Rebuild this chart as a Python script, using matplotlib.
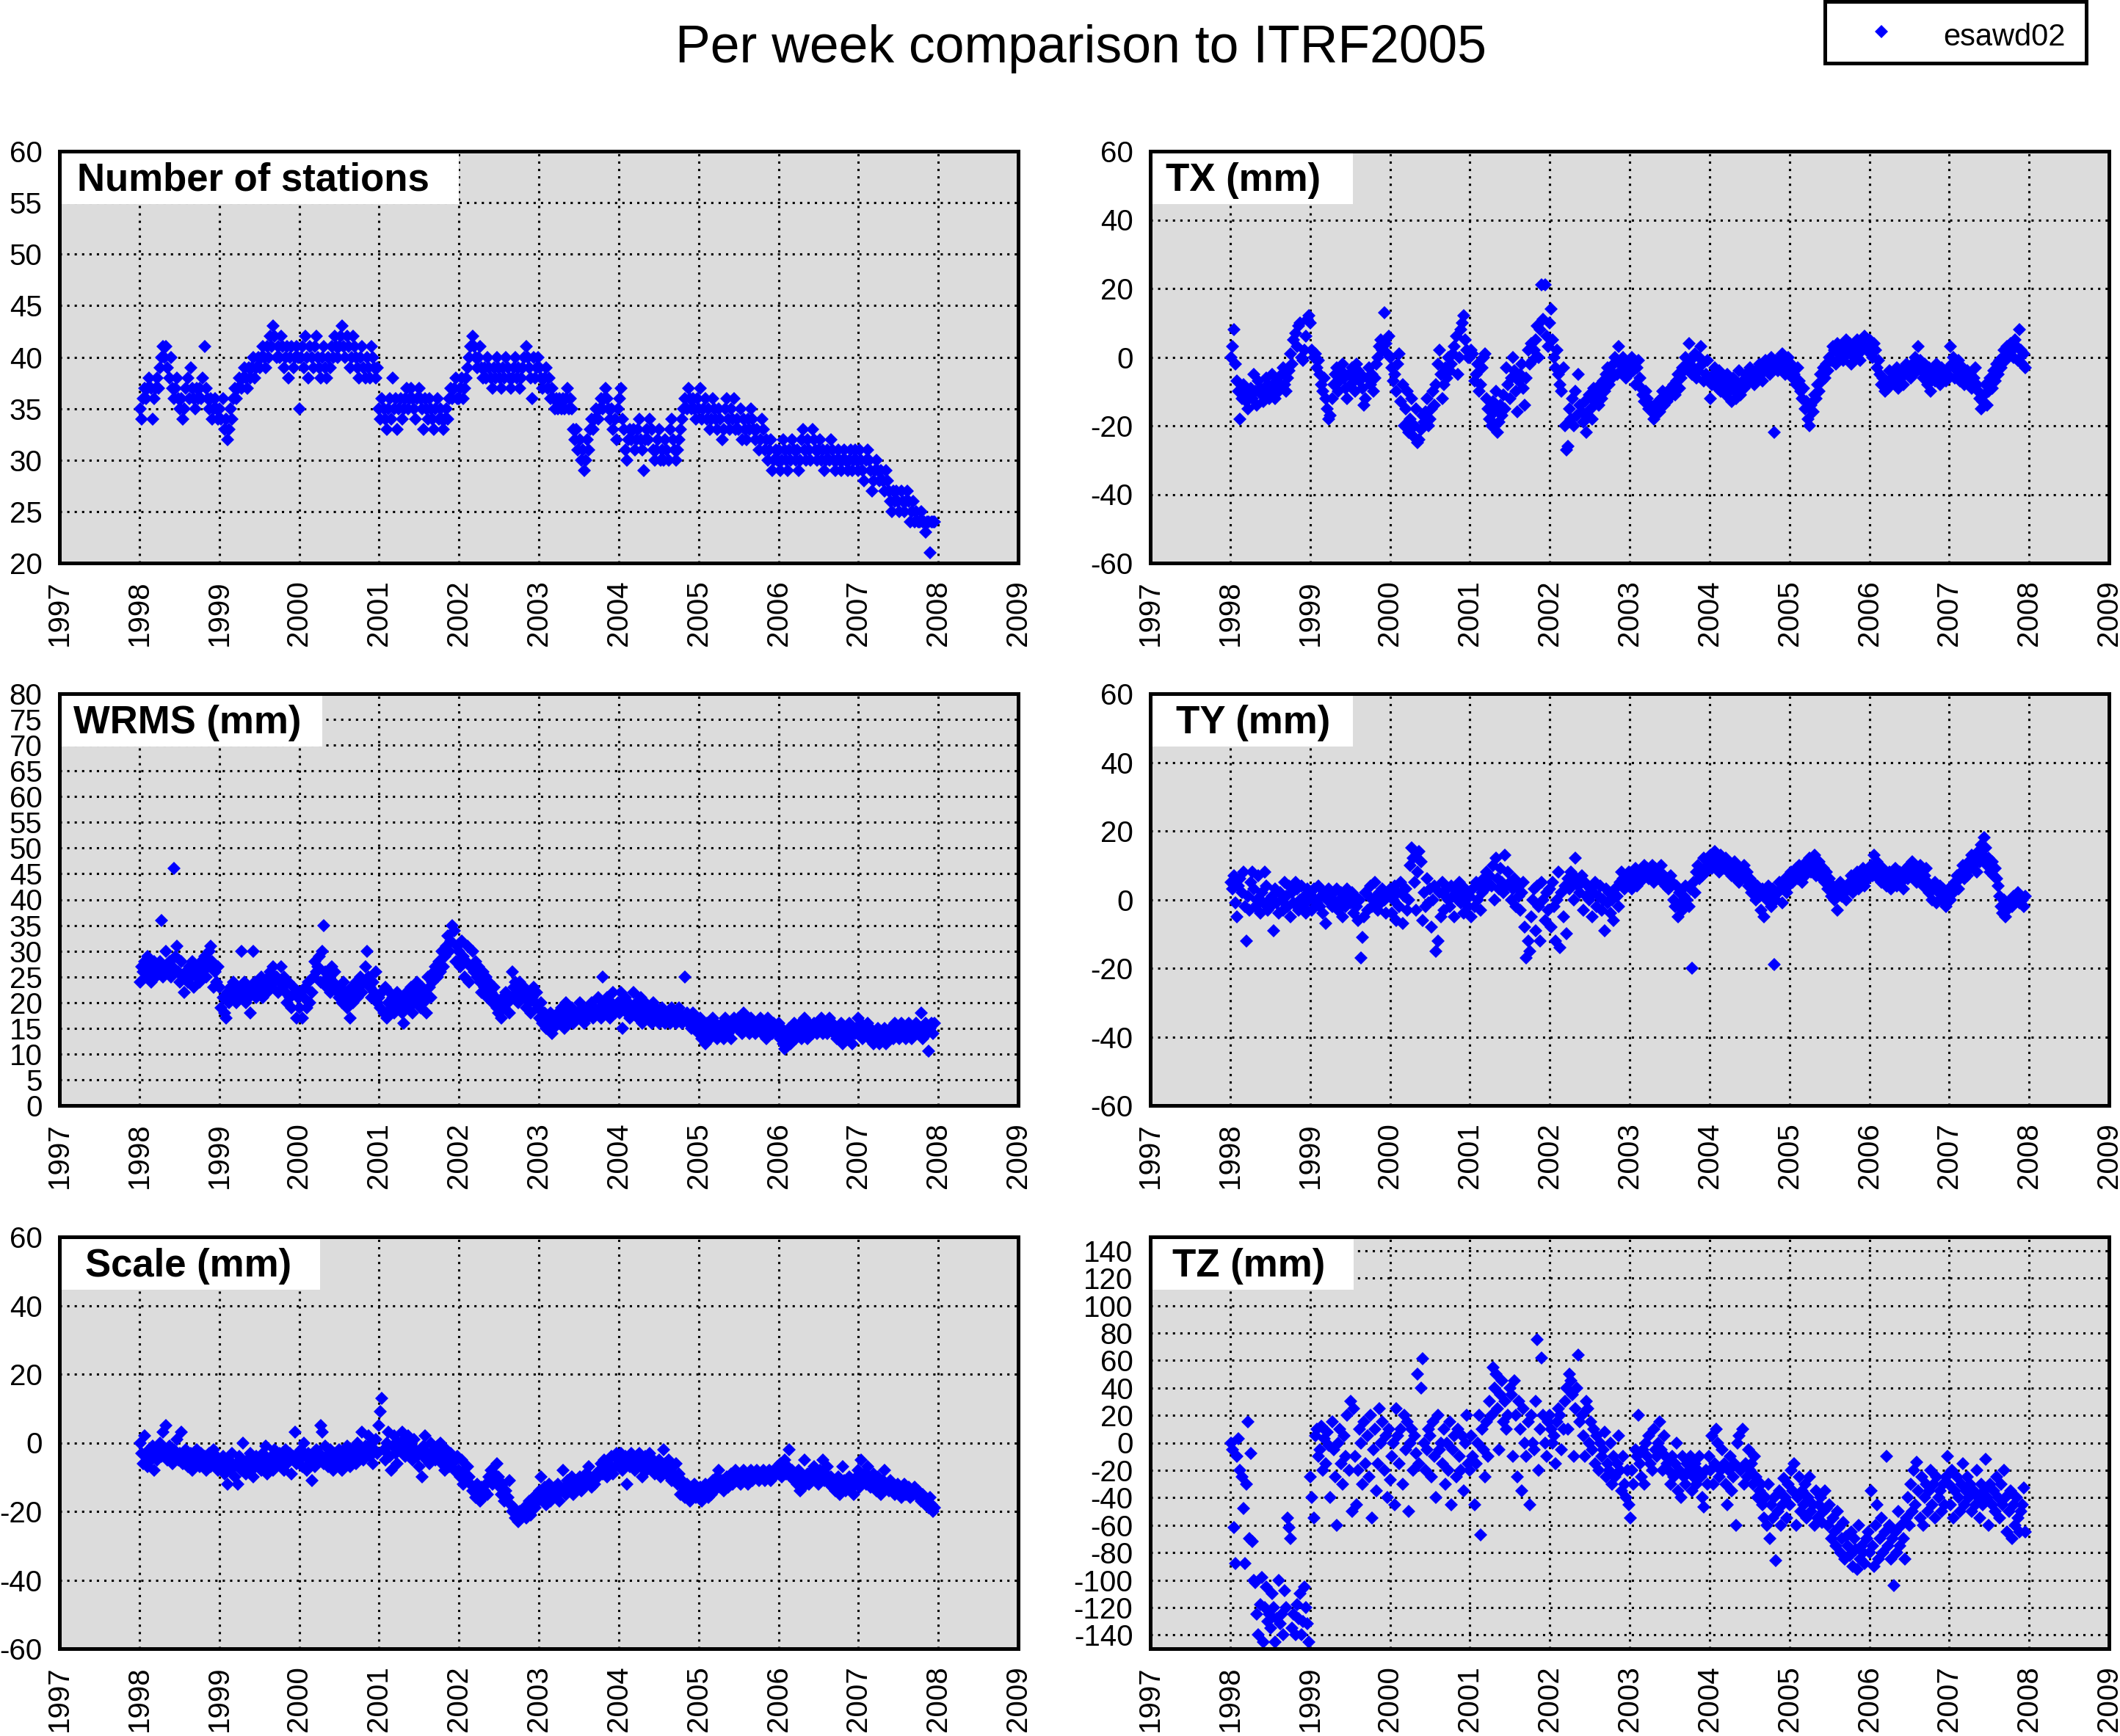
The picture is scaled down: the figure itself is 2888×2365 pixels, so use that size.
import numpy as np
import matplotlib
matplotlib.use("Agg")
import matplotlib.pyplot as plt
from matplotlib.patches import Rectangle
from matplotlib.lines import Line2D

plt.rcParams["font.family"] = ["Liberation Sans", "DejaVu Sans"]
plt.rcParams["axes.unicode_minus"] = False

# Weekly solutions esawd02 vs ITRF2005, one line = one quarter (13 weeks), 1998.0 -> 2008.0
first_epoch = 1998.01
week = 7 / 365.25

stations = [
    35, 34, 36, 37, 36, 37, 38, 37, 34, 36, 37, 38, 37,
    39, 40, 41, 40, 41, 39, 38, 40, 37, 36, 37, 38, 36,
    35, 36, 34, 35, 37, 38, 36, 39, 37, 36, 35, 37, 36,
    37, 36, 38, 41, 37, 36, 35, 36, 34, 35, 36, 35, 34,
    35, 34, 36, 33, 34, 32, 33, 35, 34, 36, 37, 36, 37,
    38, 37, 38, 39, 38, 37, 39, 38, 39, 40, 38, 39, 40,
    39, 40, 41, 40, 39, 41, 40, 42, 41, 43, 42, 40, 41,
    40, 42, 41, 39, 40, 41, 38, 40, 41, 39, 40, 41, 40,
    35, 40, 41, 39, 42, 40, 38, 41, 40, 39, 41, 42, 40,
    39, 38, 40, 41, 39, 38, 40, 39, 41, 40, 42, 41, 40,
    41, 42, 43, 41, 40, 42, 41, 39, 40, 42, 41, 40, 39,
    38, 40, 41, 39, 38, 40, 39, 38, 41, 40, 39, 38, 39,
    35, 34, 36, 35, 34, 33, 35, 36, 34, 38, 35, 36, 33,
    35, 36, 34, 35, 36, 37, 35, 36, 37, 36, 35, 34, 36,
    37, 36, 35, 33, 36, 35, 34, 36, 35, 34, 33, 35, 36,
    34, 35, 34, 33, 34, 35, 34, 36, 37, 36, 37, 38, 36,
    36, 37, 38, 36, 37, 38, 39, 40, 41, 42, 41, 40, 39,
    40, 41, 39, 38, 39, 38, 40, 39, 38, 37, 39, 38, 40,
    39, 38, 37, 39, 38, 40, 39, 38, 37, 38, 39, 40, 38,
    39, 37, 38, 39, 40, 41, 40, 39, 38, 36, 40, 38, 39,
    40, 39, 38, 37, 38, 39, 37, 38, 36, 37, 36, 35, 36,
    35, 36, 35, 36, 35, 36, 37, 35, 36, 35, 33, 32, 33,
    31, 32, 30, 31, 29, 30, 32, 31, 33, 34, 33, 34, 35,
    34, 35, 36, 35, 36, 37, 36, 35, 34, 35, 33, 34, 32,
    35, 36, 37, 34, 33, 31, 30, 32, 33, 32, 33, 31, 32,
    33, 34, 32, 31, 29, 32, 33, 32, 34, 33, 31, 30, 31,
    32, 33, 30, 31, 30, 32, 31, 30, 33, 34, 32, 31, 30,
    31, 32, 33, 34, 35, 36, 35, 37, 36, 35, 36, 35, 34,
    36, 35, 37, 34, 35, 36, 34, 35, 33, 34, 36, 35, 34,
    33, 35, 34, 32, 33, 35, 36, 34, 33, 35, 34, 36, 33,
    34, 33, 35, 32, 34, 33, 32, 34, 33, 35, 34, 33, 32,
    33, 31, 32, 34, 33, 31, 32, 30, 31, 32, 29, 30, 31,
    30, 31, 29, 30, 32, 31, 30, 29, 31, 30, 32, 31, 30,
    31, 29, 30, 32, 33, 31, 30, 32, 31, 30, 33, 32, 31,
    30, 31, 32, 30, 31, 29, 30, 31, 30, 32, 31, 30, 29,
    30, 31, 30, 29, 30, 31, 30, 29, 30, 31, 29, 30, 31,
    30, 29, 31, 30, 29, 28, 30, 31, 30, 29, 27, 28, 29,
    30, 29, 28, 29, 28, 27, 29, 28, 27, 26, 25, 27, 26,
    27, 26, 25, 27, 26, 25, 26, 27, 26, 24, 25, 26, 24,
    25, 24, 24, 25, 24, 24, 23, 24, 24, 21, 24, 24, 24,
]

tx = [
    0, 3, 8, -2, -7, -10, -18, -12, -8, -10, -13, -15, -11,
    -9, -12, -5, -10, -14, -7, -9, -11, -13, -10, -6, -8, -12,
    -10, -5, -8, -12, -7, -10, -9, -5, -3, -8, -10, -6, -4,
    1, -2, 5, 7, 3, 9, 10, 0, -1, 2, 6, 11, 12,
    10, 2, 0, 1, -3, -1, -5, -8, -10, -6, -12, -15, -18,
    -17, -12, -8, -5, -3, -10, -7, -4, -2, -6, -9, -12, -5,
    -8, -3, -6, -10, -2, -4, -7, -5, -9, -14, -12, -6, -3,
    -8, -5, -10, -6, -2, 0, 3, 5, 2, 13, 4, 1, 6,
    0, -3, -7, -5, -10, -2, 1, -13, -8, -20, -15, -10, -22,
    -18, -12, -23, -20, -15, -25, -24, -21, -17, -19, -16, -12, -20,
    -18, -15, -10, -14, -8, -2, 2, -5, -12, -8, -3, -6, 0,
    -4, -2, 1, 3, 6, -5, 0, 8, 10, 12, 5, 2, 0,
    0, 2, 1, -7, -5, -2, -10, -8, -3, 0, 1, -12, -15,
    -18, -20, -13, -16, -10, -22, -19, -14, -17, -11, -15, -3, -8,
    -12, -6, 0, -4, -10, -16, -7, -5, -2, -9, -14, -6, 2,
    -2, 4, -1, 2, 5, 9, 0, 8, 21, 11, 21, 6, 3,
    10, 14, 5, 0, -3, 2, -5, -8, -10, -3, -20, -27, -26,
    -15, -18, -12, -20, -10, -17, -5, -14, -16, -19, -13, -22, -17,
    -11, -15, -18, -9, -13, -10, -14, -8, -12, -7, -10, -5, -3,
    -8, -4, -6, -2, 0, -5, 3, -2, -4, 0, -1, -6, -3,
    -5, -2, 0, -4, -8, -3, -1, -6, -9, -11, -13, -10, -12,
    -15, -14, -16, -18, -17, -15, -13, -16, -12, -10, -14, -11, -13,
    -12, -9, -10, -8, -11, -7, -5, -9, -6, -3, -4, 0, -2,
    4, -1, -5, -3, 1, -6, -4, 0, 3, -2, -7, -5, -1,
    -6, -12, -8, -5, -3, -7, -9, -4, -10, -6, -8, -11, -5,
    -7, -9, -13, -6, -10, -12, -8, -4, -11, -7, -9, -5, -8,
    -6, -3, -7, -5, -8, -4, -6, -2, -5, -7, -3, -1, -4,
    -2, -5, 0, -3, -22, -1, -4, -2, 0, 1, -3, -5, -2,
    0, -4, -2, -6, -5, -8, -3, -7, -10, -12, -9, -15, -13,
    -18, -20, -14, -16, -11, -12, -8, -10, -5, -7, -3, -6, -2,
    -4, 0, -1, 3, 2, -2, 4, 1, 0, 3, -1, 2, 5,
    1, 4, -2, 3, 0, 2, 5, 1, -1, 4, 3, 6, 2,
    3, 5, 1, 0, 4, 2, -3, -1, -5, -8, -6, -10, -7,
    -9, -4, -8, -6, -5, -7, -3, -9, -6, -4, -8, -5, -2,
    -4, -3, -6, -2, -5, 0, -3, 3, -1, -4, -6, -2, -5,
    -8, -3, -10, -6, -4, -7, -2, -5, -8, -3, -6, -4, -7,
    -5, -3, 3, -2, 0, -6, -4, -1, -7, -5, -3, -8, -6,
    -4, -7, -5, -9, -6, -3, -8, -10, -12, -15, -13, -11, -8,
    -14, -10, -6, -9, -4, -7, -2, -5, -1, -3, 0, 2, -1,
    3, 1, 4, 2, 0, 5, 3, -1, 8, 2, -2, 1, -3,
]

wrms = [
    24, 27, 26, 28, 25, 29, 27, 24, 26, 28, 25, 27, 26,
    28, 36, 25, 27, 30, 26, 28, 25, 27, 46, 29, 31, 26,
    24, 28, 25, 22, 26, 24, 27, 25, 28, 23, 26, 25, 27,
    24, 28, 26, 29, 25, 27, 30, 31, 28, 23, 26, 24, 27,
    23, 19, 21, 18, 17, 22, 20, 23, 21, 24, 22, 20, 23,
    21, 30, 22, 24, 20, 23, 21, 18, 22, 30, 24, 21, 23,
    22, 25, 21, 23, 24, 22, 25, 26, 23, 27, 24, 25, 22,
    24, 27, 23, 25, 22, 20, 24, 21, 19, 23, 22, 17, 21,
    19, 22, 17, 21, 23, 19, 24, 20, 22, 25, 28, 26, 27,
    29, 24, 30, 35, 26, 23, 25, 22, 27, 24, 26, 23, 22,
    21, 23, 20, 24, 22, 19, 21, 17, 23, 20, 22, 24, 21,
    23, 25, 22, 24, 27, 30, 25, 23, 21, 24, 22, 26, 20,
    21, 19, 22, 18, 23, 17, 20, 22, 19, 21, 18, 20, 22,
    19, 21, 18, 16, 20, 22, 19, 21, 23, 18, 20, 22, 24,
    21, 19, 23, 20, 22, 18, 25, 23, 21, 24, 26, 27, 25,
    28, 26, 30, 27, 29, 31, 33, 30, 32, 35, 34, 28, 31,
    30, 27, 32, 29, 25, 28, 31, 24, 27, 30, 26, 28, 25,
    27, 24, 22, 26, 23, 25, 21, 24, 22, 20, 23, 21, 19,
    18, 20, 17, 21, 19, 22, 20, 18, 21, 26, 23, 24, 22,
    20, 24, 22, 21, 23, 19, 22, 20, 18, 21, 23, 20, 22,
    19, 17, 20, 16, 18, 15, 17, 16, 18, 14, 15, 17, 16,
    18, 16, 19, 17, 15, 20, 18, 16, 17, 19, 16, 18, 17,
    18, 20, 17, 19, 16, 18, 17, 19, 18, 20, 17, 19, 18,
    21, 19, 17, 25, 20, 18, 21, 19, 17, 20, 22, 18, 19,
    20, 18, 22, 15, 19, 21, 18, 20, 17, 19, 22, 18, 20,
    17, 19, 21, 16, 18, 20, 17, 19, 18, 16, 20, 17, 19,
    18, 16, 17, 19, 18, 16, 17, 18, 16, 19, 17, 18, 16,
    17, 19, 18, 16, 17, 25, 18, 16, 17, 15, 18, 16, 17,
    16, 14, 17, 13, 15, 12, 16, 14, 13, 15, 17, 14, 16,
    13, 15, 14, 16, 13, 17, 15, 14, 16, 13, 15, 17, 16,
    15, 17, 16, 14, 18, 15, 17, 16, 14, 17, 15, 16, 14,
    16, 15, 17, 14, 16, 15, 13, 17, 16, 15, 14, 16, 15,
    14, 16, 13, 15, 12, 11, 14, 13, 15, 12, 14, 16, 13,
    15, 14, 16, 13, 15, 17, 14, 13, 16, 15, 14, 16, 15,
    14, 16, 15, 17, 14, 15, 16, 14, 17, 15, 16, 14, 15,
    13, 15, 14, 16, 12, 14, 15, 13, 16, 14, 12, 15, 14,
    15, 17, 14, 16, 13, 15, 14, 16, 13, 15, 14, 12, 14,
    13, 15, 12, 14, 13, 15, 12, 14, 13, 15, 14, 13, 16,
    14, 15, 13, 16, 14, 15, 13, 14, 16, 15, 13, 14, 15,
    16, 14, 15, 18, 13, 15, 16, 14, 10.5, 15, 16, 14, 16,
]

ty = [
    5, 3, 7, -1, -5, 4, 6, 2, 8, -2, -12, 1, -3,
    5, 8, 3, -2, 0, 7, -4, 2, -1, 8, 4, -3, 0,
    -2, 1, -9, 3, -1, -4, 2, 0, -3, 5, 1, -2, 4,
    -5, 2, -1, 5, 3, -3, 0, 4, -2, 1, -4, 3, 0,
    2, -3, 3, 0, -1, 4, -2, 1, -4, 2, -7, 0, 3,
    1, -2, 2, -1, 3, -3, 0, 2, -5, 1, -2, 3, 0,
    -1, 2, -4, 1, -2, -6, 0, -17, -11, -5, 2, -3, 1,
    4, -2, 0, 5, 1, -3, 2, -1, 3, 0, -4, 1, 2,
    3, -4, 0, 4, -6, 2, -2, 5, -7, 1, 3, -3, 0,
    10, 15, 12, 5, -3, 8, 14, 11, -6, 2, -2, 6, -1,
    3, -8, 0, 4, -15, -12, 2, -5, 5, -3, 1, 3, 0,
    -2, 4, 1, -5, 3, 0, 5, -1, 2, -4, 3, 1, -2,
    1, -5, 3, -2, 5, 0, 4, -3, 2, 6, 3, 8, 5,
    7, 4, 10, 0, 12, 6, 3, 9, 5, 2, 13, 4, 8,
    5, 0, 3, 6, -2, 4, 1, -3, 2, 5, -8, -17, -12,
    -15, -5, 0, 3, -9, 4, -2, -12, 5, 0, -6, 2, -3,
    3, -8, 5, -2, -12, 0, 8, -14, 2, -5, 4, -10, 6,
    3, 8, 5, 0, 12, 6, 4, 2, 7, -3, 5, 1, 4,
    0, 3, -5, 2, 5, -2, 1, 4, -3, 0, -9, 3, -1,
    2, -4, 0, -6, 3, 1, -2, 5, 8, 6, 3, 7, 5,
    8, 5, 3, 6, 9, 4, 7, 5, 8, 6, 10, 7, 9,
    6, 8, 10, 5, 9, 7, 6, 8, 10, 5, 7, 4, 6,
    3, 7, 5, 0, -2, 4, -5, 2, -1, -3, 1, 4, 0,
    -2, 3, -20, 5, 2, 8, 10, 6, 9, 7, 12, 8, 10,
    11, 13, 9, 12, 14, 10, 12, 8, 13, 11, 9, 12, 10,
    8, 10, 7, 9, 11, 6, 8, 5, 9, 7, 10, 6, 8,
    4, 6, 2, 5, 3, 0, 4, 1, -3, 3, -5, 2, 0,
    4, 1, -2, 3, -19, 0, 2, 5, 3, -1, 4, 6, 2,
    4, 6, 8, 5, 7, 9, 6, 10, 8, 5, 9, 7, 11,
    9, 12, 8, 10, 13, 7, 9, 11, 8, 6, 9, 5, 8,
    3, 6, 1, 4, 0, 2, -3, 3, 5, 1, 4, 2, 0,
    3, 5, 7, 2, 6, 4, 8, 3, 5, 7, 9, 4, 6,
    6, 8, 10, 7, 13, 9, 11, 6, 8, 5, 9, 7, 4,
    6, 8, 3, 5, 7, 9, 4, 6, 8, 5, 3, 7, 9,
    6, 10, 8, 11, 7, 9, 5, 8, 10, 6, 4, 7, 9,
    5, 2, 4, 0, 3, 5, -1, 2, 4, 0, 3, 1, -2,
    1, 3, 0, 4, 2, 5, 7, 3, 6, 8, 10, 6, 9,
    7, 11, 9, 13, 10, 12, 8, 14, 11, 16, 13, 18, 15,
    10, 12, 8, 11, 7, 9, 6, 4, 1, -2, -4, 0, -5,
    -3, -1, 0, -2, 1, -1, 0, 2, -1, 1, 0, -2, 1,
]

scale = [
    0, -3, -6, 2, -4, -7, -2, -5, -1, -8, -3, -5, -2,
    0, -4, 3, -2, 5, -5, -1, -3, -6, -2, -4, 1, -5,
    -3, 3, -6, -4, -2, -7, -5, -3, -8, -4, -6, -2, -5,
    -7, -3, -6, -4, -8, -5, -3, -7, -5, -2, -6, -4, -8,
    -5, -7, -4, -9, -6, -12, -5, -8, -3, -7, -10, -6, -12,
    -4, -8, 0, -6, -9, -5, -7, -3, -8, -10, -6, -4, -7,
    -5, -8, -3, -6, -1, -9, -5, -7, -4, -8, -2, -6, -5,
    -3, -7, -4, -8, -2, -6, -5, -3, -9, -4, 3, -6, -3,
    -5, -2, -7, 0, -4, -8, -3, -6, -11, -4, -7, -2, -5,
    -3, 5, 3, -6, -1, -4, -7, -2, -5, -8, -3, -6, -4,
    -2, -6, -8, -3, -5, -1, -4, -7, -2, -5, -3, -6, 0,
    -4, -2, 3, -5, -1, -3, 2, -4, 0, -6, -2, 1, -3,
    5, 9, 13, -2, -5, 0, 3, -4, -8, -1, 2, -3, -6,
    0, -2, 3, 1, -4, -1, 2, -3, 0, -5, 1, -2, -4,
    -7, -3, -10, -1, 2, -5, -3, -6, 0, -4, -2, -5, -1,
    -3, 0, -6, -4, -8, -2, -5, -7, -3, -6, -8, -5, -4,
    -8, -10, -5, -12, -9, -11, -7, -10, -12, -14, -13, -16, -12,
    -15, -17, -13, -16, -14, -12, -15, -10, -8, -12, -9, -11, -6,
    -10, -13, -15, -12, -17, -14, -16, -11, -18, -20, -19, -22, -21,
    -23, -20, -22, -21, -19, -22, -20, -17, -21, -18, -16, -19, -15,
    -17, -14, -10, -16, -13, -18, -15, -12, -17, -14, -16, -13, -15,
    -12, -17, -14, -8, -13, -15, -11, -14, -12, -10, -15, -13, -11,
    -12, -10, -14, -11, -13, -9, -12, -7, -10, -13, -11, -12, -9,
    -10, -8, -6, -9, -5, -7, -10, -6, -8, -4, -9, -7, -3,
    -5, -7, -3, -8, -6, -4, -12, -5, -7, -3, -6, -8, -4,
    -6, -3, -7, -10, -5, -4, -8, -6, -3, -7, -5, -9, -6,
    -8, -5, -10, -7, -2, -6, -9, -5, -8, -11, -7, -10, -6,
    -12, -9, -15, -11, -13, -16, -12, -14, -17, -13, -15, -12, -16,
    -14, -16, -13, -17, -15, -12, -14, -16, -13, -15, -11, -14, -12,
    -10, -8, -13, -11, -14, -12, -10, -13, -11, -9, -12, -10, -8,
    -11, -9, -12, -10, -8, -11, -9, -12, -10, -8, -11, -9, -10,
    -8, -11, -9, -10, -8, -11, -9, -10, -8, -11, -9, -10, -8,
    -7, -9, -6, -10, -8, -5, -9, -7, -2, -10, -8, -11, -9,
    -12, -8, -14, -10, -13, -5, -11, -9, -12, -10, -8, -7, -11,
    -9, -12, -8, -10, -5, -11, -9, -7, -12, -10, -13, -11, -14,
    -12, -10, -15, -13, -7, -11, -14, -12, -10, -13, -11, -15, -12,
    -10, -8, -13, -5, -11, -9, -12, -7, -10, -13, -11, -9, -12,
    -14, -10, -12, -15, -11, -8, -13, -12, -14, -11, -13, -12, -15,
    -13, -12, -14, -16, -13, -12, -15, -14, -13, -16, -14, -15, -13,
    -15, -14, -16, -17, -15, -16, -18, -17, -19, -16, -18, -20, -19,
]

tz = [
    0, -5, -62, -88, -10, 3, -20, -25, -48, -88, -30, 15, -70,
    -8, -72, -100, -102, -125, -140, -118, -98, -145, -120, -105, -130, -125,
    -135, -110, -120, -145, -128, -100, -132, -125, -140, -108, -120, -55, -62,
    -70, -135, -125, -140, -118, -128, -110, -140, -130, -105, -120, -132, -145,
    -25, -40, -55, 5, 10, -10, -5, 12, -20, 3, -15, 8, -2,
    -40, 15, -5, -25, -60, 0, 10, -15, -30, 5, -10, 20, -20,
    30, -50, 25, -10, -45, -20, 10, 0, -30, 15, -15, 5, -25,
    20, -55, -5, 10, -35, -15, 25, 0, 15, -20, 5, -40, 10,
    -27, -10, 0, -45, 25, 5, -15, 10, -30, 20, -5, 15, -50,
    0, 10, -20, 5, -8, 50, -15, 40, 61, 0, -20, -5, 10,
    5, -25, 15, -10, -40, 20, -5, 0, -15, 10, -30, 0, -20,
    15, -45, -5, 5, -25, 10, -10, -20, 5, -35, 0, 20, -15,
    -20, 5, -10, -45, -15, 0, 20, -67, 10, -5, -25, 15, -10,
    30, 20, 55, 40, 50, 25, -5, 35, 45, 15, 30, 10, 20,
    40, 35, -10, 45, 20, -25, 30, 10, -35, 25, 0, -10, 15,
    -45, 20, 0, -5, 30, 75, -20, 10, 62, 20, 0, -10, 15,
    20, 10, 0, 5, -15, 15, 25, 20, -5, 10, 30, 40, 10,
    50, 45, 35, -10, 25, 40, 64, 15, 20, 5, -10, 30, 25,
    0, 15, -5, 10, -15, 5, -20, 0, -10, -5, 8, -25, -15,
    -20, 0, -30, -10, -25, -15, 5, -20, -35, -10, -30, -40, -20,
    -45, -55, -20, -30, -5, -10, 20, -15, -25, -5, -30, 0, -10,
    5, -15, -20, 10, -5, -10, 0, 15, -5, -20, 5, -10, -15,
    -20, -30, -10, -25, -15, 0, -35, -20, -40, -10, -25, -30, -15,
    -20, -10, -35, -25, -15, -30, -20, -10, -25, -40, -47, -20, -30,
    -10, -20, 5, -30, -15, 10, 0, -25, -20, -5, -15, -30, -45,
    -20, -10, -35, -25, -15, -60, 0, 5, -20, 10, -30, -15, -25,
    -5, -20, -15, -30, -10, -25, -40, -35, -30, -45, -55, -40, -60,
    -30, -70, -45, -55, -40, -86, -50, -35, -60, -45, -26, -40, -55,
    -30, -45, -20, -35, -15, -60, -40, -25, -50, -35, -45, -30, -55,
    -40, -25, -50, -45, -60, -35, -55, -45, -40, -58, -50, -35, -48,
    -60, -45, -70, -55, -65, -75, -50, -62, -80, -70, -58, -85, -68,
    -75, -82, -65, -90, -70, -78, -92, -60, -85, -75, -80, -88, -70,
    -65, -80, -35, -75, -90, -60, -45, -85, -70, -55, -80, -65, -10,
    -75, -60, -85, -70, -104, -65, -80, -50, -75, -60, -70, -85, -55,
    -40, -60, -30, -50, -20, -45, -14, -35, -55, -25, -60, -40, -30,
    -50, -35, -20, -45, -30, -55, -25, -40, -35, -50, -30, -45, -25,
    -10, -30, -45, -20, -55, -35, -25, -40, -50, -30, -15, -45, -35,
    -25, -40, -30, -50, -35, -45, -20, -40, -55, -30, -45, -35, -12,
    -40, -60, -30, -45, -35, -50, -25, -40, -55, -30, -45, -20, -40,
    -65, -50, -35, -70, -45, -60, -40, -55, -65, -50, -45, -33, -65,
]

year_ticks = list(range(1997, 2010))

# (values, label, y limits, y ticks, column, row, label box width px, label x offset px)
panels = [
    (stations, "Number of stations", (20, 60), range(20, 61, 5), 0, 0, 544, 24),
    (tx, "TX (mm)", (-60, 60), range(-60, 61, 20), 1, 0, 276, 21),
    (wrms, "WRMS (mm)", (0, 80), range(0, 81, 5), 0, 1, 358, 19),
    (ty, "TY (mm)", (-60, 60), range(-60, 61, 20), 1, 1, 276, 35),
    (scale, "Scale (mm)", (-60, 60), range(-60, 61, 20), 0, 2, 355, 35),
    (tz, "TZ (mm)", (-150, 150), range(-140, 141, 20), 1, 2, 277, 30),
]

W, H = 2888, 2365
fig = plt.figure(figsize=(W / 100, H / 100), dpi=100)

col_left = [81, 1567]
row_top = [206, 945, 1685]
ax_w, ax_h = 1306, 561

for values, label, ylim, yticks, col, row, box_w, text_dx in panels:
    ax = fig.add_axes([col_left[col] / W, 1 - (row_top[row] + ax_h) / H, ax_w / W, ax_h / H])
    ax.set_facecolor("#dcdcdc")
    y = np.array(values, dtype=float)
    x = first_epoch + np.arange(len(y)) * week
    ax.plot(x, y, "D", color="#0000ff", ms=9.5, mew=0, linestyle="none", zorder=2)

    ax.set_xlim(1997, 2009)
    ax.set_ylim(*ylim)
    ax.set_xticks(year_ticks)
    ax.set_xticklabels([str(t) for t in year_ticks], rotation=90)
    ax.set_yticks(list(yticks))
    ax.tick_params(length=0, labelsize=29, pad=17)
    ax.set_axisbelow(True)
    ax.grid(True, color="black", linestyle=(0, (1, 2.3)), linewidth=2.2)
    for s in ax.spines.values():
        s.set_linewidth(3.6)
        s.set_zorder(5)

    # white label box in the upper left corner
    ax.add_patch(Rectangle((0, 1 - 72 / ax_h), box_w / ax_w, 72 / ax_h, transform=ax.transAxes,
                           facecolor="white", edgecolor="none", zorder=3))
    ax.text(text_dx / ax_w, 1 - 54 / ax_h, label, transform=ax.transAxes, fontsize=38,
            fontweight="bold", va="baseline", ha="left", zorder=4)

fig.text(1473 / W, 1 - 85 / H, "Per week comparison to ITRF2005", ha="center", va="baseline", fontsize=51.5)

# legend box
fig.add_artist(Rectangle((2486 / W, 1 - 86 / H), (2842 - 2486) / W, 84 / H, transform=fig.transFigure,
                         facecolor="white", edgecolor="black", linewidth=3.6))
fig.add_artist(Line2D([2563 / W], [1 - 43 / H], marker="D", color="#0000ff", ms=9, mew=0,
                      linestyle="none", transform=fig.transFigure))
fig.text(2647 / W, 1 - 62 / H, "esawd02", ha="left", va="baseline", fontsize=30)

fig.savefig("out.png", dpi=100)
